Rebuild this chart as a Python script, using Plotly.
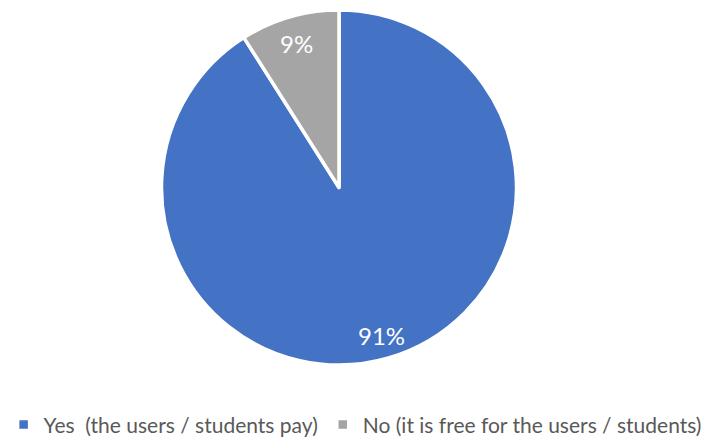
import math
import plotly.graph_objects as go

# Survey answers: do users / students pay?
labels = ["Yes\u00a0 (the users / students pay)", "No (it is free for the users / students)"]
values = [91, 9]
colors = ["#4472C4", "#A5A5A5"]

W, H = 706, 438
cx, cy, r = 339, 187.5, 177.5  # pie centre and radius in pixels

fig = go.Figure(go.Pie(
    labels=labels,
    values=values,
    sort=False,
    direction="clockwise",
    rotation=0,
    marker=dict(colors=colors, line=dict(color="white", width=3.5)),
    textinfo="none",
    hoverinfo="label+percent",
    domain=dict(x=[(cx - r) / W, (cx + r) / W], y=[1 - (cy + r) / H, 1 - (cy - r) / H]),
))

# Percent labels placed on each slice's mid-angle, near the rim
total = sum(values)
start = 0.0
annotations = []
for v in values:
    frac = v / total
    mid = (start + frac / 2) * 2 * math.pi
    start += frac
    px = cx + 0.857 * r * math.sin(mid)
    py = cy - 0.857 * r * math.cos(mid)
    annotations.append(dict(
        x=px / W, y=1 - py / H, xref="paper", yref="paper",
        xanchor="center", yanchor="middle", yshift=-2,
        text=f"{round(frac * 100)}%", showarrow=False,
        font=dict(color="white", size=24, family="Lato"),
    ))

fig.update_layout(
    width=W, height=H,
    margin=dict(l=0, r=0, t=0, b=0, autoexpand=False),
    paper_bgcolor="white",
    plot_bgcolor="white",
    annotations=annotations,
    showlegend=True,
    legend=dict(
        orientation="h", x=0.503, xanchor="center", y=0.03, yanchor="middle",
        font=dict(color="#595959", size=21, family="Lato"),
        itemwidth=30,
    ),
)

fig.write_html("out.html")
